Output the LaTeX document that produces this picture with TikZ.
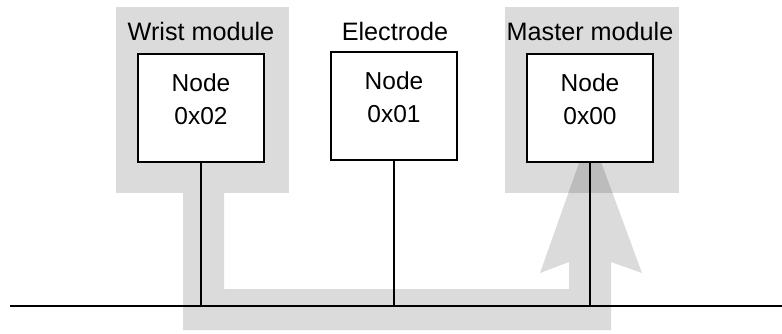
\documentclass[tikz,border=0pt]{standalone}
\usepackage{fontspec}
\setmainfont{Liberation Sans}
\begin{document}
\begin{tikzpicture}[x=1pt,y=-1pt,
  every node/.style={inner sep=0pt,outer sep=0pt},
  modulebg/.style={fill=modgray,draw=none,rectangle,minimum height=186pt},
  nodebox/.style={draw=black,line width=2pt,fill=white,rectangle,minimum width=126pt,minimum height=108pt},
  txt/.style={anchor=base,font=\fontsize{24.5}{30}\selectfont},
  caption/.style={anchor=base,font=\fontsize{25.2}{30}\selectfont},
  wire/.style={draw=black,line width=2pt},
  flow/.style={fill=black,fill opacity=0.14,draw=none}]
\definecolor{modgray}{HTML}{DBDBDB}
\useasboundingbox (0,0) rectangle (782,333);

% module backgrounds
\node[modulebg,minimum width=173pt] (wristbg) at (202.5,100) {};
\node[modulebg,minimum width=174pt] (masterbg) at (592,100) {};

% data path from the wrist module along the bus up into the master
\coordinate (pA) at (183,193);
\coordinate (pB) at (183,330);
\coordinate (pC) at (611,330);
\coordinate (pD) at (611,262);
\coordinate (pE) at (642,273);
\coordinate (pTip) at (590,132);
\coordinate (pF) at (540,273);
\coordinate (pG) at (569,262);
\coordinate (pH) at (569,289);
\coordinate (pI) at (224,289);
\coordinate (pJ) at (224,193);
\path[flow] (pA) -- (pB) -- (pC) -- (pD) -- (pE) -- (pTip) -- (pF) -- (pG) -- (pH) -- (pI) -- (pJ) -- cycle;

% module captions
\node[caption] (wristlbl) at (201,40) {Wrist module};
\node[caption] (electrodelbl) at (395,40.5) {Electrode};
\node[caption] (masterlbl) at (590,40.5) {Master module};

% bus
\coordinate (busL) at (10,306);
\coordinate (busR) at (782,306);
\draw[wire] (busL) -- (busR);

% CAN nodes
\node[nodebox] (n02) at (201,108) {};
\node[nodebox] (n01) at (394,106) {};
\node[nodebox] (n00) at (590,108) {};

\draw[wire] (n02.south) -- (n02.south |- busL);
\draw[wire] (n01.south) -- (n01.south |- busL);
\draw[wire] (n00.south) -- (n00.south |- busL);

% node labels
\node[txt] (n02a) at (201,91) {Node};
\node[txt] (n02b) at (201,124) {0x02};
\node[txt] (n01a) at (394,89) {Node};
\node[txt] (n01b) at (394,122) {0x01};
\node[txt] (n00a) at (590,91) {Node};
\node[txt] (n00b) at (590,124) {0x00};
\end{tikzpicture}
\end{document}
